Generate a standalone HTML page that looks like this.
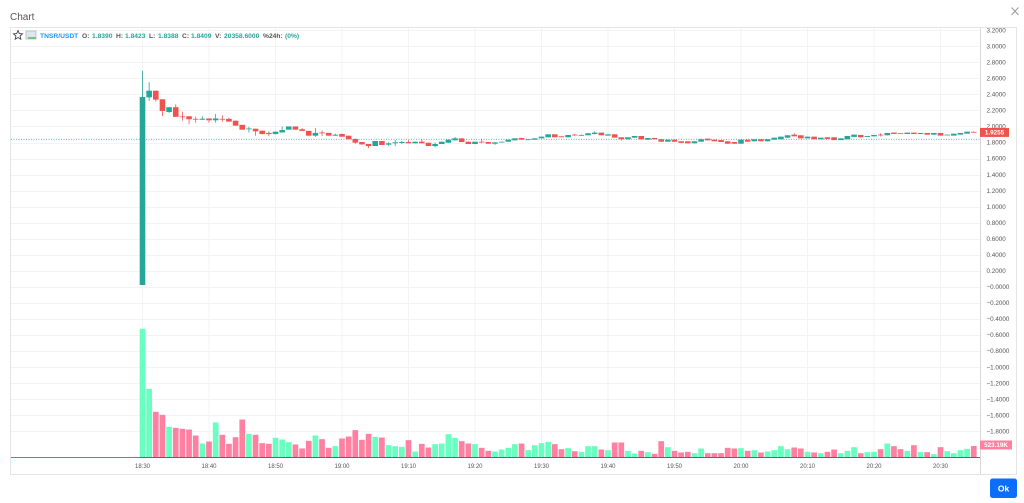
<!DOCTYPE html>
<html>
<head>
<meta charset="utf-8">
<title>Chart</title>
<style>
html,body{margin:0;padding:0;background:#fff;width:1024px;height:503px;overflow:hidden}
svg{display:block;font-family:"Liberation Sans",sans-serif;filter:blur(0.3px)}
</style>
</head>
<body>
<svg id="chart" width="1024" height="503" viewBox="0 0 1024 503" xmlns="http://www.w3.org/2000/svg">
  <text x="10" y="20" font-size="10" fill="#555">Chart</text>
  <g stroke="#9a9a9a" stroke-width="1" fill="none">
    <path d="M1011.5 7.5 L1018.5 15 M1018.5 7.5 L1011.5 15"/>
  </g>
  <rect x="10.5" y="27.5" width="1006" height="447" fill="#fff" stroke="#e4e4e4"/>
  <g id="grid"></g>
  <g id="volumes"></g>
  <g id="candles"></g>
  <line id="last-close-line" x1="11" x2="980" stroke="#26a69a" stroke-width="0.8" stroke-dasharray="1 1.5"/>
  <line x1="11" x2="140" y1="457.5" y2="457.5" stroke="#26a69a"/>
  <line x1="140" x2="980" y1="457.5" y2="457.5" stroke="#666"/>
  <line x1="980.5" x2="980.5" y1="28" y2="474" stroke="#d8d8d8"/>
  <g id="price-axis"></g>
  <g id="time-axis"></g>

  <g>
    <path d="M18 30.6 L19.3 33.6 L22.5 33.9 L20.1 36 L20.8 39.2 L18 37.5 L15.2 39.2 L15.9 36 L13.5 33.9 L16.7 33.6 Z" fill="#fff" stroke="#444" stroke-width="0.9"/>
  </g>
  <g>
    <rect x="26" y="31" width="10" height="8" fill="#dfe6ee" stroke="#a9b6c4" stroke-width="0.7"/>
    <rect x="28" y="37" width="8" height="2" fill="#7fbf7f"/>
  </g>
  <g font-size="6.7" font-weight="bold">
    <text x="40" y="38" fill="#2196f3">TNSR/USDT</text>
    <text x="82" y="38" fill="#555">O:</text>
    <text x="92" y="38" fill="#26a69a">1.8390</text>
    <text x="116" y="38" fill="#555">H:</text>
    <text x="125" y="38" fill="#26a69a">1.8423</text>
    <text x="149" y="38" fill="#555">L:</text>
    <text x="158" y="38" fill="#26a69a">1.8388</text>
    <text x="182" y="38" fill="#555">C:</text>
    <text x="191" y="38" fill="#26a69a">1.8409</text>
    <text x="215" y="38" fill="#555">V:</text>
    <text x="224" y="38" fill="#26a69a">20358.6000</text>
    <text x="263" y="38" fill="#555">%24h:</text>
    <text x="285" y="38" fill="#26a69a">(0%)</text>
  </g>

  <g>
    <rect id="price-tag-rect" x="980" width="29" height="9" fill="#ef5350"/>
    <text id="price-tag-text" x="994.5" font-size="6.3" font-weight="bold" fill="#fff" text-anchor="middle"></text>
  </g>
  <g>
    <rect id="volume-tag-rect" x="980" width="32" height="9" fill="#ff80a0"/>
    <text id="volume-tag-text" x="996" font-size="6.3" font-weight="bold" fill="#fff" text-anchor="middle"></text>
  </g>

  <g>
    <rect x="990" y="478.5" width="27" height="19.5" rx="2.5" fill="#0d6efd"/>
    <text x="1003.5" y="491.5" font-size="8.5" font-weight="bold" fill="#fff" text-anchor="middle">Ok</text>
  </g>
</svg>
<script>
const timeLabels = ["18:30","18:40","18:50","19:00","19:10","19:20","19:30","19:40","19:50","20:00","20:10","20:20","20:30"];
const timeTickIndexes = [0,10,20,30,40,50,60,70,80,90,100,110,120];
const priceTicks = [3.2,3,2.8,2.6,2.4,2.2,2,1.8,1.6,1.4,1.2,1,0.8,0.6,0.4,0.2,0,-0.2,-0.4,-0.6,-0.8,-1,-1.2,-1.4,-1.6,-1.8];
const opens = [
0.023,2.363,2.446,2.339,2.18,2.24,2.125,2.127,2.095,2.084,
2.1,2.077,2.095,2.095,2.072,2.02,1.965,1.972,1.947,1.92,
1.905,1.925,1.96,2.0,1.965,1.945,1.885,1.925,1.92,1.885,
1.906,1.885,1.844,1.806,1.781,1.756,1.819,1.773,1.79,1.794,
1.806,1.79,1.81,1.797,1.756,1.781,1.797,1.827,1.852,1.81,
1.781,1.81,1.806,1.785,1.802,1.81,1.827,1.856,1.835,1.835,
1.852,1.865,1.902,1.877,1.865,1.898,1.886,1.89,1.906,1.923,
1.886,1.902,1.865,1.84,1.86,1.881,1.835,1.856,1.84,1.81,
1.835,1.815,1.815,1.79,1.81,1.848,1.835,1.83,1.815,1.806,
1.785,1.835,1.815,1.84,1.815,1.835,1.84,1.86,1.898,1.89,
1.852,1.873,1.84,1.865,1.865,1.83,1.84,1.87,1.894,1.87,
1.877,1.898,1.89,1.923,1.915,1.906,1.923,1.906,1.919,1.898,
1.919,1.89,1.886,1.898,1.91,1.933];
const closes = [
2.367,2.446,2.334,2.193,2.24,2.12,2.12,2.09,2.085,2.097,
2.077,2.1,2.085,2.06,2.01,1.96,1.975,1.94,1.906,1.906,
1.935,1.955,2.0,1.96,1.945,1.885,1.92,1.915,1.885,1.897,
1.872,1.84,1.798,1.777,1.756,1.819,1.769,1.79,1.802,1.806,
1.79,1.81,1.79,1.756,1.781,1.81,1.835,1.852,1.806,1.781,
1.81,1.802,1.785,1.802,1.81,1.835,1.852,1.835,1.84,1.852,
1.873,1.902,1.865,1.865,1.894,1.89,1.894,1.915,1.923,1.89,
1.902,1.861,1.84,1.865,1.881,1.84,1.856,1.84,1.81,1.835,
1.81,1.795,1.79,1.815,1.84,1.827,1.815,1.806,1.785,1.785,
1.835,1.81,1.84,1.815,1.84,1.86,1.873,1.89,1.877,1.852,
1.873,1.84,1.86,1.844,1.83,1.852,1.881,1.898,1.865,1.881,
1.894,1.89,1.919,1.906,1.906,1.923,1.906,1.919,1.898,1.919,
1.886,1.898,1.91,1.919,1.935,1.9255];
const highs = [
2.695,2.55,2.446,2.339,2.24,2.276,2.184,2.127,2.122,2.127,
2.1,2.155,2.14,2.11,2.072,2.02,1.997,1.972,1.95,1.94,
1.935,2.0,2.0,2.0,1.98,1.945,1.977,1.95,1.92,1.91,
1.91,1.885,1.85,1.806,1.781,1.819,1.819,1.802,1.83,1.82,
1.83,1.81,1.844,1.797,1.8,1.81,1.835,1.868,1.852,1.81,
1.81,1.847,1.806,1.802,1.81,1.835,1.852,1.86,1.84,1.852,
1.873,1.902,1.902,1.877,1.894,1.91,1.9,1.915,1.94,1.923,
1.902,1.902,1.865,1.865,1.881,1.881,1.856,1.856,1.84,1.835,
1.835,1.815,1.815,1.815,1.85,1.848,1.835,1.83,1.815,1.806,
1.835,1.835,1.84,1.84,1.84,1.86,1.873,1.89,1.915,1.89,
1.873,1.873,1.86,1.865,1.865,1.852,1.881,1.898,1.894,1.881,
1.894,1.915,1.919,1.923,1.915,1.923,1.923,1.919,1.919,1.919,
1.919,1.898,1.91,1.919,1.935,1.94];
const lows = [
0.023,2.317,2.31,2.13,2.17,2.12,2.072,2.027,2.047,2.08,
2.047,2.047,2.06,2.06,2.01,1.96,1.927,1.885,1.9,1.88,
1.905,1.925,1.96,1.96,1.945,1.885,1.872,1.88,1.885,1.885,
1.872,1.84,1.785,1.77,1.73,1.756,1.769,1.76,1.756,1.78,
1.79,1.79,1.79,1.756,1.74,1.781,1.797,1.827,1.806,1.781,
1.781,1.79,1.785,1.77,1.802,1.81,1.827,1.835,1.835,1.835,
1.852,1.865,1.865,1.865,1.865,1.885,1.886,1.89,1.9,1.89,
1.886,1.861,1.825,1.84,1.86,1.84,1.835,1.84,1.81,1.81,
1.81,1.795,1.79,1.79,1.81,1.827,1.815,1.806,1.785,1.785,
1.785,1.81,1.815,1.815,1.815,1.835,1.84,1.86,1.877,1.852,
1.852,1.84,1.84,1.844,1.83,1.83,1.84,1.87,1.86,1.87,
1.877,1.875,1.89,1.906,1.906,1.906,1.906,1.906,1.898,1.898,
1.886,1.89,1.886,1.898,1.91,1.9255];
const volumesK = [
5855,3125,2078,1942,1396,1350,1305,1274,1001,637,
728,1593,1032,622,925,1729,1077,1032,652,622,
895,819,698,592,410,758,1001,834,440,516,
865,956,1244,804,1077,941,910,561,516,485,
789,273,622,455,607,637,1062,895,743,637,
607,440,303,273,364,440,607,637,334,561,
652,713,607,379,425,288,258,516,516,364,
334,683,683,303,182,303,243,167,743,470,
303,228,258,197,410,197,197,197,440,410,
425,303,334,228,273,334,516,379,455,410,
258,228,197,258,364,197,303,470,197,243,
258,379,637,516,379,303,561,243,243,152,
470,288,197,334,394,523.19];
const lastClose = 1.8409;
const lastPrice = 1.9255;
const lastVolumeK = 523.19;

const SVG_NS = 'http://www.w3.org/2000/svg';
function xScale(i){ return 142.5 + 6.65 * i; }
function priceY(p){ return 142.5 - (p - 1.8) * 80.2; }
function volumeY(v){ return 457.5 - v / 45.5; }
function make(tag, attrs, parent){
  const el = document.createElementNS(SVG_NS, tag);
  for (const k in attrs) el.setAttribute(k, attrs[k]);
  parent.appendChild(el);
  return el;
}
const gridG = document.getElementById('grid');
const volG = document.getElementById('volumes');
const candleG = document.getElementById('candles');
const priceAxisG = document.getElementById('price-axis');
const timeAxisG = document.getElementById('time-axis');

priceTicks.forEach(function(p){
  const y = Math.round(priceY(p)) + 0.5;
  const line = make('line', {x1:11, x2:980, y1:y, y2:y, stroke:'#f3f3f3'}, gridG);
  
  
  const t = make('text', {x:986.5, y:priceY(p) + 2.2, 'font-size':6.3, fill:'#555'}, priceAxisG);
  t.textContent = (p <= 0 ? '\u2212' : '') + Math.abs(p).toFixed(4);
  
  
});
timeTickIndexes.forEach(function(idx, n){
  const x = xScale(idx);
  const line = make('line', {x1:x, x2:x, y1:28, y2:458, stroke:'#f3f3f3'}, gridG);
  
  
  const t = make('text', {x:x, y:468, 'font-size':6, fill:'#555', 'text-anchor':'middle'}, timeAxisG);
  t.textContent = timeLabels[n];
  
  
});
volumesK.forEach(function(v, i){
  const up = closes[i] >= opens[i];
  const top = volumeY(v);
  const bar = make('rect', {x:xScale(i) - 2.85, y:top, width:5.7, height:457.5 - top, fill: up ? '#69ffc0' : '#ff80a0'}, volG);
  
  
});
opens.forEach(function(o, i){
  const c = closes[i];
  const up = c >= o;
  const col = up ? '#26a69a' : '#ef5350';
  const x = xScale(i);
  const wick = make('line', {x1:x, x2:x, y1:priceY(highs[i]), y2:priceY(lows[i]), stroke:col, 'stroke-width':0.8}, candleG);
  
  
  const top = priceY(Math.max(o, c));
  const h = Math.max(Math.abs(priceY(o) - priceY(c)), 0.8);
  const body = make('rect', {x:x - 2.8, y:top, width:5.6, height:h, fill:col}, candleG);
  
  
});
const lc = document.getElementById('last-close-line');
lc.setAttribute('y1', priceY(lastClose));
lc.setAttribute('y2', priceY(lastClose));
const py = priceY(lastPrice);
document.getElementById('price-tag-rect').setAttribute('y', py - 4.5);
const pt = document.getElementById('price-tag-text');
pt.setAttribute('y', py + 2.2);
pt.textContent = lastPrice.toFixed(4);
const vy = volumeY(lastVolumeK);
document.getElementById('volume-tag-rect').setAttribute('y', vy - 5.5);
const vt = document.getElementById('volume-tag-text');
vt.setAttribute('y', vy + 1.2);
vt.textContent = lastVolumeK.toFixed(2) + 'K';
</script>
</body>
</html>
